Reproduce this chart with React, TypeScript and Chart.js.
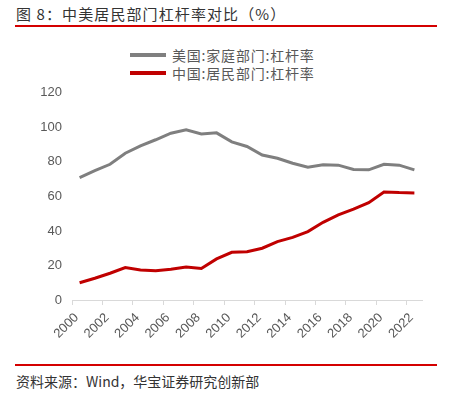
import React, { useEffect, useRef } from "react";
import { Chart, registerables } from "chart.js";

Chart.register(...registerables);

const years = ["2000","2001","2002","2003","2004","2005","2006","2007","2008","2009","2010","2011","2012","2013","2014","2015","2016","2017","2018","2019","2020","2021","2022"];
const usHousehold = [70.9,74.9,78.6,85.0,89.3,92.8,96.6,98.6,96.2,96.8,91.6,88.9,84.0,82.1,79.2,76.9,78.3,78.1,75.6,75.4,78.6,78.1,75.4];
const cnHousehold = [10.0,12.6,15.5,18.8,17.4,17.0,17.8,19.1,18.2,23.8,27.6,28.0,30.0,33.8,36.3,39.6,45.0,49.3,52.6,56.4,62.6,62.2,62.0];
const seriesNames = ["美国:家庭部门:杠杆率", "中国:居民部门:杠杆率"];
const seriesColors = ["#7f7f7f", "#c00000"];
const titleText = "图 8：中美居民部门杠杆率对比（%）";
const sourceText = "资料来源：Wind，华宝证券研究创新部";

const CJK = "'Noto Sans CJK SC', 'Noto Sans', sans-serif";

export default function App() {
  const ref = useRef<HTMLCanvasElement | null>(null);
  useEffect(() => {
    if (!ref.current) return;
    const chart = new Chart(ref.current, {
      type: "line",
      data: {
        labels: years,
        datasets: [
          { label: seriesNames[0], data: usHousehold, borderColor: seriesColors[0], backgroundColor: seriesColors[0], borderWidth: 3, pointRadius: 0, tension: 0 },
          { label: seriesNames[1], data: cnHousehold, borderColor: seriesColors[1], backgroundColor: seriesColors[1], borderWidth: 3, pointRadius: 0, tension: 0 },
        ],
      },
      options: {
        animation: false,
        responsive: false,
        devicePixelRatio: 1,
        layout: { padding: { top: 13, right: 32, left: 0, bottom: 0 } },
        plugins: { legend: { display: false }, tooltip: { enabled: false } },
        scales: {
          x: {
            type: "category",
            offset: true,
            grid: {
              offset: true,
              drawOnChartArea: false,
              drawTicks: true,
              tickLength: 5,
              color: (ctx: any) => (typeof ctx.index === "number" && ctx.index % 2 === 0 && ctx.index < years.length ? "#d9d9d9" : "rgba(0,0,0,0)"),
            },
            border: { display: true, color: "#d9d9d9", width: 1 },
            ticks: {
              autoSkip: false,
              minRotation: 45,
              maxRotation: 45,
              padding: 5,
              labelOffset: -3,
              color: "#595959",
              font: { family: "'Liberation Sans', Arial, sans-serif", size: 13 },
              callback: (_v: any, i: number) => (i % 2 === 0 ? years[i] : ""),
            },
            afterFit: (s: any) => { s.height = 60; },
          },
          y: {
            min: 0,
            max: 120,
            grid: { display: false, drawTicks: false },
            border: { display: false },
            ticks: {
              stepSize: 20,
              padding: 10,
              color: "#595959",
              font: { family: "'Liberation Sans', Arial, sans-serif", size: 13 },
            },
            afterFit: (s: any) => { s.width = 72; },
          },
        },
      },
    });
    return () => chart.destroy();
  }, []);

  return (
    <div style={{ position: "absolute", left: 0, top: 0, width: 454, height: 395, background: "#fff", overflow: "hidden" }}>
      <div style={{ position: "absolute", left: 16, top: 4, height: 20, lineHeight: "20px", fontFamily: CJK, fontSize: 15, letterSpacing: "1.1px", color: "#333", whiteSpace: "nowrap" }}>{titleText}</div>
      <div style={{ position: "absolute", left: 15, top: 25, width: 422, height: 2, background: "#d40000" }} />
      {seriesNames.map((n, i) => (
        <div key={n} style={{ position: "absolute", left: 130, top: 46 + i * 18, height: 18, display: "flex", alignItems: "center", whiteSpace: "nowrap" }}>
          <div style={{ width: 36, height: 4, background: seriesColors[i], marginRight: 6 }} />
          <span style={{ fontFamily: CJK, fontSize: 14, letterSpacing: "0.8px", color: "#595959", lineHeight: "18px" }}>{n}</span>
        </div>
      ))}
      <canvas ref={ref} width={454} height={285} style={{ position: "absolute", left: 0, top: 75, width: 454, height: 285 }} />
      <div style={{ position: "absolute", left: 15, top: 364, width: 422, height: 2, background: "#d40000" }} />
      <div style={{ position: "absolute", left: 16, top: 371, height: 20, lineHeight: "20px", fontFamily: CJK, fontSize: 14, color: "#333", whiteSpace: "nowrap" }}>{sourceText}</div>
    </div>
  );
}
